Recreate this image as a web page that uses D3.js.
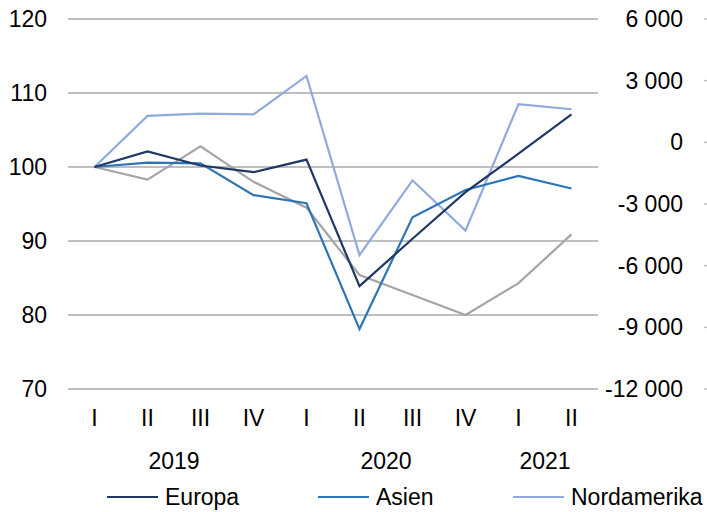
<!DOCTYPE html>
<html>
  <head>
    <meta charset="utf-8">
    <script src="https://d3js.org/d3.v7.min.js"></script>
    <style>
      body { margin: 0; background: #fff; }
      text { font-family: "Liberation Sans", Arial, sans-serif; fill: #000; }
    </style>
  </head>
  <body>
    <script>
      // quarters and years
      var quarters = ["I", "II", "III", "IV", "I", "II", "III", "IV", "I", "II"];
      var years = [
        { label: "2019", from: 0, to: 3 },
        { label: "2020", from: 4, to: 7 },
        { label: "2021", from: 8, to: 9 }
      ];

      // series values (index, left axis)
      var europa = [100, 102.1, 100.2, 99.3, 101.0, 83.9, 90.3, 96.6, 101.8, 107.1];
      var asien = [100, 100.6, 100.5, 96.2, 95.1, 78.1, 93.2, 96.9, 98.8, 97.1];
      var nordamerika = [100, 106.9, 107.2, 107.1, 112.3, 88.1, 98.2, 91.4, 108.5, 107.8];
      var ovrigt = [100, 98.3, 102.8, 98.0, 94.5, 85.4, 82.7, 80.0, 84.3, 90.9];

      var leftTicks = [70, 80, 90, 100, 110, 120];
      var rightTicks = [-12000, -9000, -6000, -3000, 0, 3000, 6000];

      var width = 707, height = 512;
      var svg = d3.select("body").append("svg")
          .attr("width", width)
          .attr("height", height);

      var x = d3.scaleBand().domain(d3.range(quarters.length)).range([68, 598]);
      var y = d3.scaleLinear().domain([70, 120]).range([389, 19]);
      var y2 = d3.scaleLinear().domain([-12000, 6000]).range([389, 19]);

      var fmt = function (d) {
        var s = d3.format(",")(d);
        return s.replace(/,/g, " ").replace("−", "-");
      };

      // gridlines
      svg.append("g")
        .selectAll("line")
        .data(leftTicks)
        .enter().append("line")
        .attr("x1", 68).attr("x2", 598)
        .attr("y1", function (d) { return y(d); })
        .attr("y2", function (d) { return y(d); })
        .attr("stroke", "#bfbfbf")
        .attr("stroke-width", 2);

      // left axis labels
      svg.append("g")
        .selectAll("text")
        .data(leftTicks)
        .enter().append("text")
        .attr("x", 47)
        .attr("y", function (d) { return y(d) + 8; })
        .attr("text-anchor", "end")
        .style("font-size", "23px")
        .text(function (d) { return d; });

      // right axis labels
      svg.append("g")
        .selectAll("text")
        .data(rightTicks)
        .enter().append("text")
        .attr("x", 683)
        .attr("y", function (d) { return y2(d) + 8; })
        .attr("text-anchor", "end")
        .style("font-size", "23px")
        .text(fmt);

      // small marks on right edge
      svg.append("g")
        .selectAll("line")
        .data(rightTicks)
        .enter().append("line")
        .attr("x1", 704).attr("x2", 707)
        .attr("y1", function (d) { return y2(d); })
        .attr("y2", function (d) { return y2(d); })
        .attr("stroke", "#bfbfbf")
        .attr("stroke-width", 1.5);

      // quarter labels
      svg.append("g")
        .selectAll("text")
        .data(quarters)
        .enter().append("text")
        .attr("x", function (d, i) { return x(i) + x.bandwidth() / 2; })
        .attr("y", 426)
        .attr("text-anchor", "middle")
        .style("font-size", "23px")
        .text(function (d) { return d; });

      // year labels
      svg.append("g")
        .selectAll("text")
        .data(years)
        .enter().append("text")
        .attr("x", function (d) { return (x(d.from) + x(d.to) + x.bandwidth()) / 2; })
        .attr("y", 469)
        .attr("text-anchor", "middle")
        .style("font-size", "23px")
        .text(function (d) { return d.label; });

      var series = [
        { name: null, values: ovrigt, color: "#a5a5a5" },
        { name: "Nordamerika", values: nordamerika, color: "#8faadc" },
        { name: "Asien", values: asien, color: "#2e75b6" },
        { name: "Europa", values: europa, color: "#1f3864" }
      ];

      var line = d3.line()
          .x(function (d, i) { return x(i) + x.bandwidth() / 2; })
          .y(function (d) { return y(d); });

      svg.append("g")
        .selectAll("path")
        .data(series)
        .enter().append("path")
        .attr("d", function (d) { return line(d.values); })
        .attr("fill", "none")
        .attr("stroke", function (d) { return d.color; })
        .attr("stroke-width", 2.2)
        .attr("stroke-linejoin", "miter");

      // legend
      var legendItems = [
        { name: "Europa", color: "#1f3864", x: 107 },
        { name: "Asien", color: "#2e75b6", x: 318 },
        { name: "Nordamerika", color: "#8faadc", x: 513 }
      ];
      var legend = svg.append("g")
        .selectAll("g")
        .data(legendItems)
        .enter().append("g")
        .attr("transform", function (d) { return "translate(" + d.x + ",497)"; });
      legend.append("line")
        .attr("x1", 0).attr("x2", 51)
        .attr("stroke", function (d) { return d.color; })
        .attr("stroke-width", 2.2);
      legend.append("text")
        .attr("x", 58)
        .attr("y", 8)
        .style("font-size", "23px")
        .text(function (d) { return d.name; });
    </script>
  </body>
</html>
